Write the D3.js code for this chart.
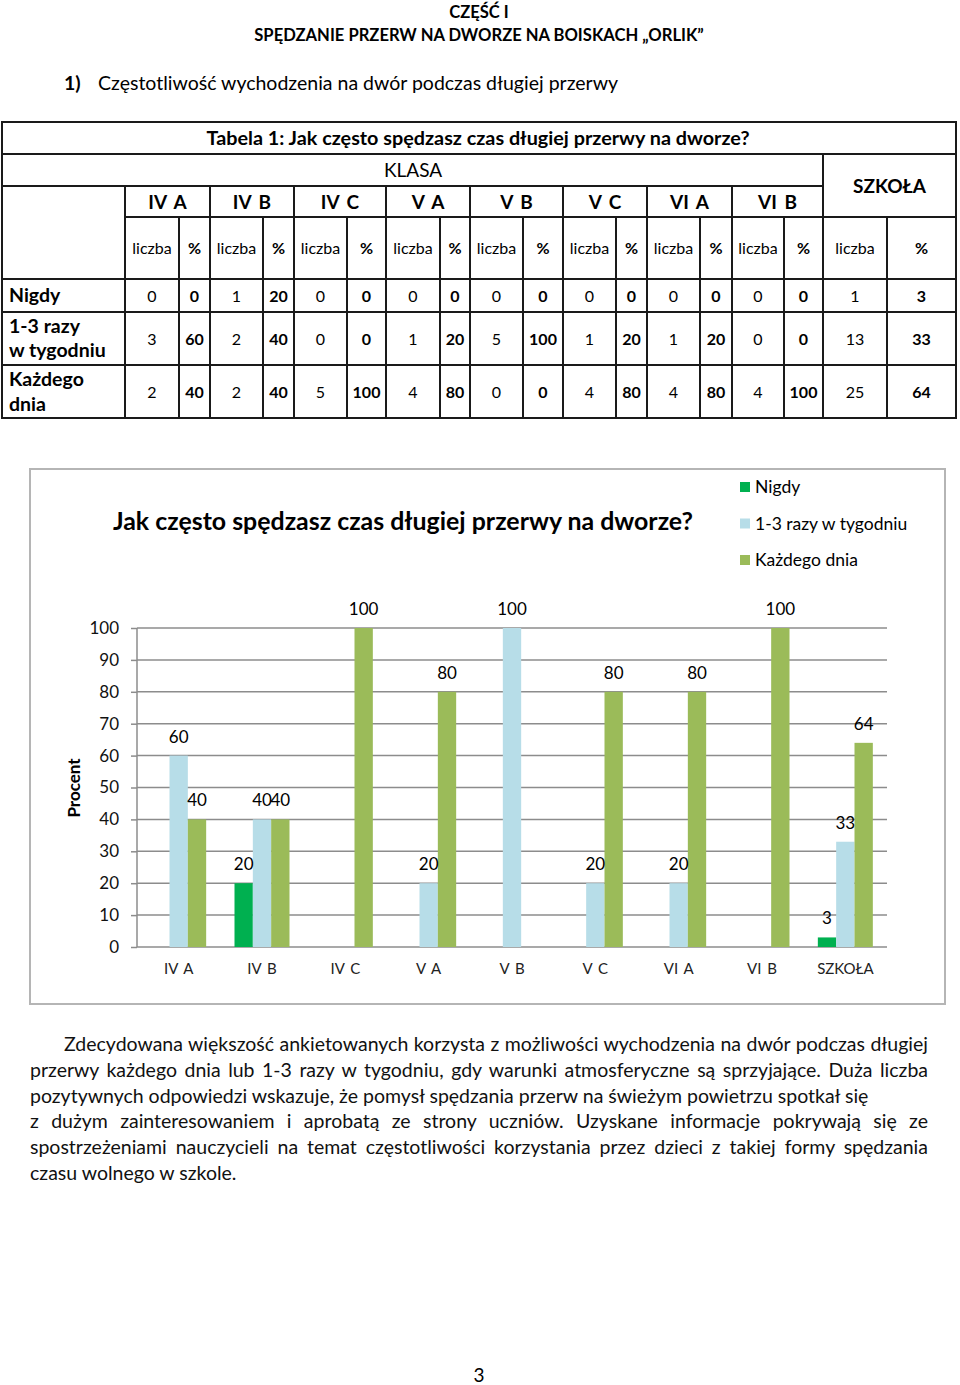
<!DOCTYPE html>
<html>
<head>
<meta charset="utf-8">
<script src="https://cdn.jsdelivr.net/npm/d3@7"></script>
<style>
  body { margin: 0; background: #fff; }
  #page { position: relative; width: 960px; height: 1385px; font-family: Lato, "Open Sans", sans-serif; color: #111; }
  svg { position: absolute; left: 0; top: 0; }
  #para { position: absolute; left: 30px; top: 1031px; width: 898px; font-size: 19.5px; line-height: 25.8px; }
  #para div { text-align: justify; text-align-last: justify; white-space: nowrap; }
  #para div.last { text-align-last: left; }
</style>
</head>
<body>
<div id="page"></div>
<script>
// data
const classes = ["IV A", "IV B", "IV C", "V A", "V B", "V C", "VI A", "VI B"]
const categories = classes.concat(["SZKOŁA"])
const series = ["Nigdy", "1-3 razy w tygodniu", "Każdego dnia"]
const nigdyCount = [0, 1, 0, 0, 0, 0, 0, 0, 1]
const nigdyPct = [0, 20, 0, 0, 0, 0, 0, 0, 3]
const razyCount = [3, 2, 0, 1, 5, 1, 1, 0, 13]
const razyPct = [60, 40, 0, 20, 100, 20, 20, 0, 33]
const dniaCount = [2, 2, 5, 4, 0, 4, 4, 4, 25]
const dniaPct = [40, 40, 100, 80, 0, 80, 80, 100, 64]
const yTicks = [0, 10, 20, 30, 40, 50, 60, 70, 80, 90, 100]
const colors = ["#00b050", "#b7dde8", "#9bbb59"]

const paraLines = [
  "Zdecydowana większość ankietowanych korzysta z możliwości wychodzenia na dwór podczas długiej",
  "przerwy każdego dnia lub 1-3 razy w tygodniu, gdy warunki atmosferyczne są sprzyjające.  Duża liczba",
  "pozytywnych odpowiedzi wskazuje, że pomysł spędzania przerw na świeżym powietrzu spotkał się",
  "z dużym zainteresowaniem i aprobatą ze strony uczniów. Uzyskane informacje pokrywają się ze",
  "spostrzeżeniami nauczycieli na temat częstotliwości korzystania przez dzieci z takiej formy spędzania",
  "czasu wolnego w szkole."
]

const page = d3.select("#page")
const svg = page.append("svg").attr("width", 960).attr("height", 1385)

// headings
svg.append("text").attr("x", 479).attr("y", 18).attr("text-anchor", "middle")
  .attr("font-weight", "bold").attr("font-size", 16.6).text("CZĘŚĆ I")
svg.append("text").attr("x", 479).attr("y", 41).attr("text-anchor", "middle")
  .attr("font-weight", "bold").attr("font-size", 16.6).text("SPĘDZANIE PRZERW NA DWORZE NA BOISKACH „ORLIK”")
svg.append("text").attr("x", 64).attr("y", 90).attr("font-weight", "bold").attr("font-size", 19.5).text("1)")
svg.append("text").attr("x", 98).attr("y", 90).attr("font-size", 19.5).text("Częstotliwość wychodzenia na dwór podczas długiej przerwy")

// ---- table ----
const colX = [2, 125, 179, 210, 263, 294, 347, 386, 440, 470, 523, 563, 616, 647, 700, 732, 784, 823, 887, 956]
const rowY = [122, 154, 186, 217, 279, 312, 365, 418]
const tbl = svg.append("g")
const line = (x1, y1, x2, y2) => tbl.append("line")
  .attr("x1", x1).attr("y1", y1).attr("x2", x2).attr("y2", y2)
  .attr("stroke", "#1a1a1a").attr("stroke-width", 2)

// outer frame
tbl.append("rect").attr("x", colX[0]).attr("y", rowY[0])
  .attr("width", colX[19] - colX[0]).attr("height", rowY[7] - rowY[0])
  .attr("fill", "none").attr("stroke", "#1a1a1a").attr("stroke-width", 2)
line(colX[0], rowY[1], colX[19], rowY[1])
line(colX[0], rowY[2], colX[17], rowY[2])
line(colX[1], rowY[3], colX[19], rowY[3])
for (let r = 4; r < 7; r++) line(colX[0], rowY[r], colX[19], rowY[r])
line(colX[17], rowY[1], colX[17], rowY[7])
for (let c = 1; c < 17; c += 2) line(colX[c], rowY[2], colX[c], rowY[7])
for (let c = 2; c < 17; c += 2) line(colX[c], rowY[3], colX[c], rowY[7])
line(colX[18], rowY[3], colX[18], rowY[7])

const ttext = (x, y, s, opts) => tbl.append("text").attr("x", x).attr("y", y)
  .attr("text-anchor", (opts && opts.anchor) || "middle")
  .attr("font-weight", opts && opts.bold ? "bold" : "normal")
  .attr("font-size", (opts && opts.size) || 16)
  .attr("word-spacing", (opts && opts.ws) || 0).text(s)

ttext(478, 145, "Tabela 1: Jak często spędzasz czas długiej przerwy na dworze?", { bold: true, size: 19.8 })
ttext(413, 177, "KLASA", { size: 19 })
ttext((colX[17] + colX[19]) / 2, 193, "SZKOŁA", { bold: true, size: 19 })
categories.forEach((c, i) => {
  const a = colX[1 + 2 * i], m = colX[2 + 2 * i], b = colX[3 + 2 * i]
  if (i < classes.length) ttext((a + b) / 2, 209, c, { bold: true, size: 19, ws: 3 })
  ttext((a + m) / 2, 254, "liczba")
  ttext((m + b) / 2, 254, "%", { bold: true })
})
const rowsData = [[nigdyCount, nigdyPct], [razyCount, razyPct], [dniaCount, dniaPct]]
rowsData.forEach((rd, r) => {
  const cy = (rowY[4 + r] + rowY[5 + r]) / 2 + 6
  categories.forEach((c, i) => {
    const a = colX[1 + 2 * i], m = colX[2 + 2 * i], b = colX[3 + 2 * i]
    ttext((a + m) / 2, cy, rd[0][i])
    ttext((m + b) / 2, cy, rd[1][i], { bold: true })
  })
})
ttext(9, 302, "Nigdy", { bold: true, size: 19.5, anchor: "start" })
ttext(9, 333, "1-3 razy", { bold: true, size: 19.5, anchor: "start" })
ttext(9, 357, "w tygodniu", { bold: true, size: 19.5, anchor: "start" })
ttext(9, 386, "Każdego", { bold: true, size: 19.5, anchor: "start" })
ttext(9, 411, "dnia", { bold: true, size: 19.5, anchor: "start" })

// ---- chart ----
const ch = svg.append("g")
ch.append("rect").attr("x", 30).attr("y", 469).attr("width", 915).attr("height", 535)
  .attr("fill", "none").attr("stroke", "#b5b5b5").attr("stroke-width", 2)
ch.append("text").attr("x", 113).attr("y", 530).attr("font-weight", "bold").attr("font-size", 24.9)
  .text("Jak często spędzasz czas długiej przerwy na dworze?")

const x0 = d3.scaleBand().domain(categories).range([137, 887]).paddingInner(0.34).paddingOuter(0.17)
const x1 = d3.scaleBand().domain(series).range([0, x0.bandwidth()])
const y = d3.scaleLinear().domain([0, 100]).range([947, 628])

// grid
ch.append("g").selectAll("line").data(yTicks).join("line")
  .attr("x1", 137).attr("x2", 887).attr("y1", d => y(d)).attr("y2", d => y(d))
  .attr("stroke", "#8c8c8c").attr("stroke-width", 1.5)
ch.append("line").attr("x1", 137).attr("x2", 137).attr("y1", y(0)).attr("y2", y(100))
  .attr("stroke", "#8c8c8c").attr("stroke-width", 1.5)

const yAxis = ch.append("g").attr("transform", "translate(137,0)")
  .call(d3.axisLeft(y).tickValues(yTicks).tickSize(6).tickPadding(12))
yAxis.select(".domain").remove()
yAxis.selectAll("line").attr("stroke", "#8c8c8c").attr("stroke-width", 1.5)
yAxis.selectAll("text").attr("font-family", "Lato, sans-serif").attr("font-size", 17).attr("fill", "#111")

const xAxis = ch.append("g").attr("transform", "translate(0," + y(0) + ")")
  .call(d3.axisBottom(x0).tickSize(0).tickPadding(16))
xAxis.select(".domain").remove()
xAxis.selectAll("text").attr("font-family", "Lato, sans-serif").attr("font-size", 15)
  .attr("word-spacing", 2).attr("fill", "#222")

ch.append("text").attr("transform", "translate(80,788) rotate(-90)").attr("text-anchor", "middle")
  .attr("font-weight", "bold").attr("font-size", 17).text("Procent")

const pctSeries = [nigdyPct, razyPct, dniaPct]
const barData = []
categories.forEach((c, i) => series.forEach((s, k) => barData.push({ c: c, s: s, k: k, v: pctSeries[k][i] })))

ch.append("g").selectAll("rect").data(barData.filter(d => d.v > 0)).join("rect")
  .attr("x", d => x0(d.c) + x1(d.s)).attr("width", x1.bandwidth())
  .attr("y", d => y(d.v)).attr("height", d => y(0) - y(d.v))
  .attr("fill", d => colors[d.k])

ch.append("g").selectAll("text").data(barData.filter(d => d.v > 0)).join("text")
  .attr("x", d => x0(d.c) + x1(d.s) + x1.bandwidth() / 2).attr("y", d => y(d.v) - 13)
  .attr("text-anchor", "middle").attr("font-size", 17).text(d => d.v)

// legend
const leg = ch.append("g").selectAll("g").data(series).join("g")
  .attr("transform", (d, i) => "translate(740," + (482 + i * 36.5) + ")")
leg.append("rect").attr("width", 10).attr("height", 10).attr("fill", (d, i) => colors[i])
leg.append("text").attr("x", 15).attr("y", 11).attr("font-size", 17.5).text(d => d)

// paragraph
const para = page.append("div").attr("id", "para")
para.selectAll("div").data(paraLines).join("div")
  .classed("last", (d, i) => i === 2 || i === paraLines.length - 1)
  .style("text-indent", (d, i) => i === 0 ? "34px" : "0px")
  .text(d => d)

svg.append("text").attr("x", 479).attr("y", 1382).attr("text-anchor", "middle").attr("font-size", 19).text("3")
</script>
</body>
</html>
